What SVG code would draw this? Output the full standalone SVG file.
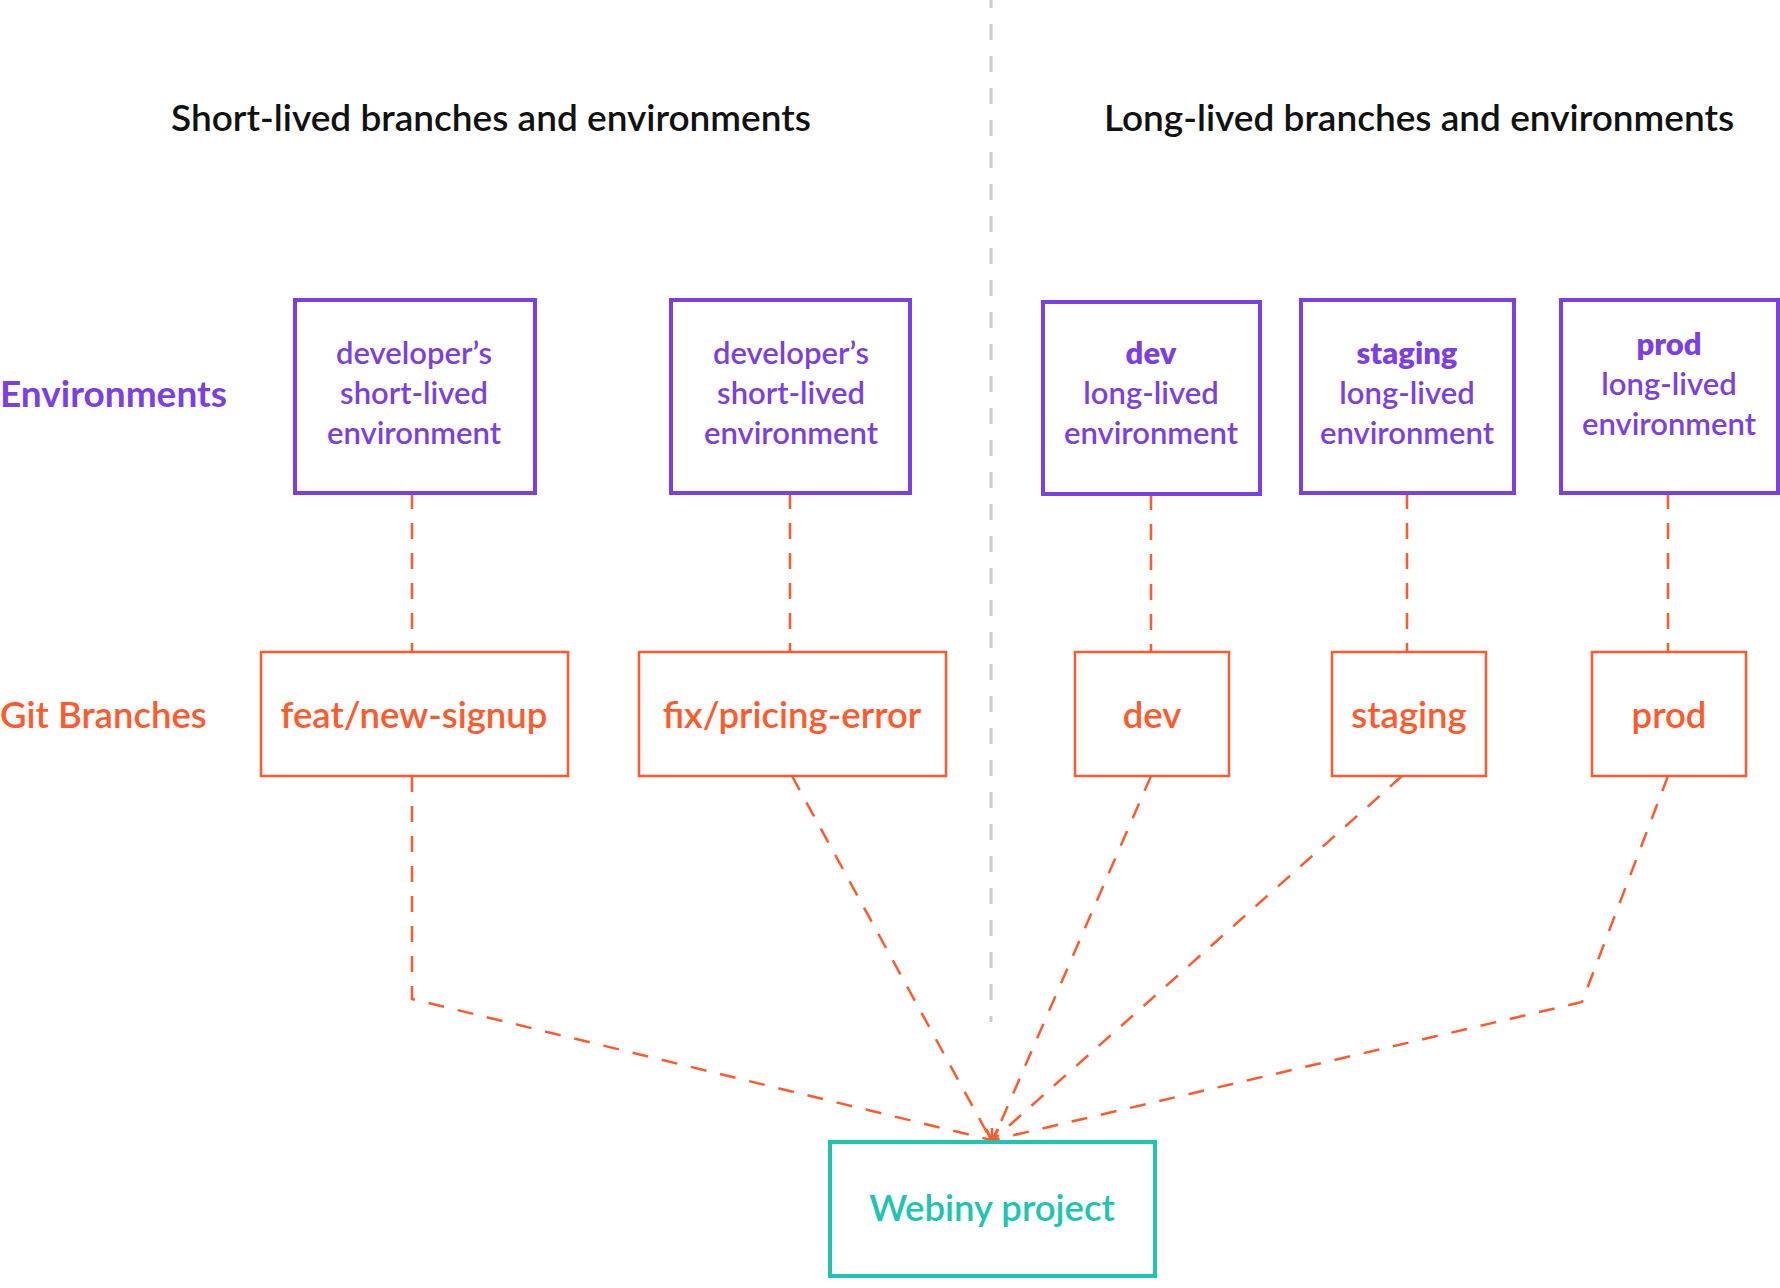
<svg xmlns="http://www.w3.org/2000/svg" width="1780" height="1288" viewBox="0 0 1780 1288">
<defs>
<style>
.t{font-family:Lato,"Open Sans","Liberation Sans",sans-serif;}
.title{font-size:37px;font-weight:600;fill:#111;}
.lab-env{font-size:37px;font-weight:700;fill:#7b3fe4;}
.lab-git{font-size:36.5px;font-weight:600;fill:#ff5a2d;}
.env rect{fill:#fff;stroke:#7b3fe4;stroke-width:4;}
.env text{font-size:31px;font-weight:600;fill:#7b3fe4;text-anchor:middle;}
.env .b{font-weight:800;}
.br rect{fill:#fff;stroke:#ff5a2d;stroke-width:2.5;}
.br text{font-size:36.5px;font-weight:600;fill:#ff5a2d;text-anchor:middle;}
.wp rect{fill:#fff;stroke:#20c5b0;stroke-width:4;}
.wp text{font-size:36.5px;font-weight:600;fill:#20c5b0;text-anchor:middle;}
.c{fill:none;stroke:#ff5a2d;stroke-width:2.5;stroke-dasharray:16 14;}
</style>
<marker id="ah" viewBox="0 0 10 10" refX="9" refY="5" markerWidth="6" markerHeight="6" orient="auto">
<path d="M1,1 L9,5 L1,9" fill="none" stroke="#ff5a2d" stroke-width="2"/>
</marker>
</defs>
<rect width="1780" height="1288" fill="#fff"/>
<line x1="991" y1="0" x2="991" y2="1022" stroke="#cccccc" stroke-width="3" stroke-dasharray="16 16" stroke-dashoffset="8"/>
<text class="t title" x="491" y="131" text-anchor="middle">Short-lived branches and environments</text>
<text class="t title" x="1419" y="131" text-anchor="middle">Long-lived branches and environments</text>
<text class="t lab-env" x="0" y="407">Environments</text>
<text class="t lab-git" x="0" y="728">Git Branches</text>
<g id="connectors">
<path class="c" d="M412,493 V652"/>
<path class="c" d="M790,493 V652"/>
<path class="c" d="M1151,494 V652"/>
<path class="c" d="M1407,493 V652"/>
<path class="c" d="M1668,493 V652"/>
<path class="c" d="M412,776 V999 L991,1140"/>
<path class="c" d="M792,776 L991,1140"/>
<path class="c" d="M1151,776 L993,1140"/>
<path class="c" d="M1402,776 L993,1140"/>
<path class="c" d="M1668,776 L1582,1002 L993,1140"/>
<path d="M992,1128 L992,1141" fill="none" stroke="#ff5a2d" stroke-width="2.5" marker-end="url(#ah)"/>
</g>
<g id="env-short-1" class="env t"><rect x="295" y="300" width="240" height="193"/><text x="414" y="364">developer’s</text><text x="414" y="404">short-lived</text><text x="414" y="444">environment</text></g>
<g id="env-short-2" class="env t"><rect x="671" y="300" width="239" height="193"/><text x="791" y="364">developer’s</text><text x="791" y="404">short-lived</text><text x="791" y="444">environment</text></g>
<g id="env-dev" class="env t"><rect x="1043" y="302" width="217" height="192"/><text class="b" x="1151" y="364">dev</text><text x="1151" y="404">long-lived</text><text x="1151" y="444">environment</text></g>
<g id="env-staging" class="env t"><rect x="1301" y="300" width="213" height="193"/><text class="b" x="1407" y="364">staging</text><text x="1407" y="404">long-lived</text><text x="1407" y="444">environment</text></g>
<g id="env-prod" class="env t"><rect x="1561" y="300" width="217" height="193"/><text class="b" x="1669" y="355">prod</text><text x="1669" y="395">long-lived</text><text x="1669" y="435">environment</text></g>
<g id="br-feat" class="br t"><rect x="261" y="652" width="307" height="124"/><text x="414" y="728">feat/new-signup</text></g>
<g id="br-fix" class="br t"><rect x="639" y="652" width="307" height="124"/><text x="792" y="728">fix/pricing-error</text></g>
<g id="br-dev" class="br t"><rect x="1075" y="652" width="154" height="124"/><text x="1152" y="728">dev</text></g>
<g id="br-staging" class="br t"><rect x="1332" y="652" width="154" height="124"/><text x="1409" y="728">staging</text></g>
<g id="br-prod" class="br t"><rect x="1592" y="652" width="154" height="124"/><text x="1669" y="728">prod</text></g>
<g id="webiny" class="wp t"><rect x="830" y="1142" width="325" height="134"/><text x="992" y="1221">Webiny project</text></g>
</svg>
